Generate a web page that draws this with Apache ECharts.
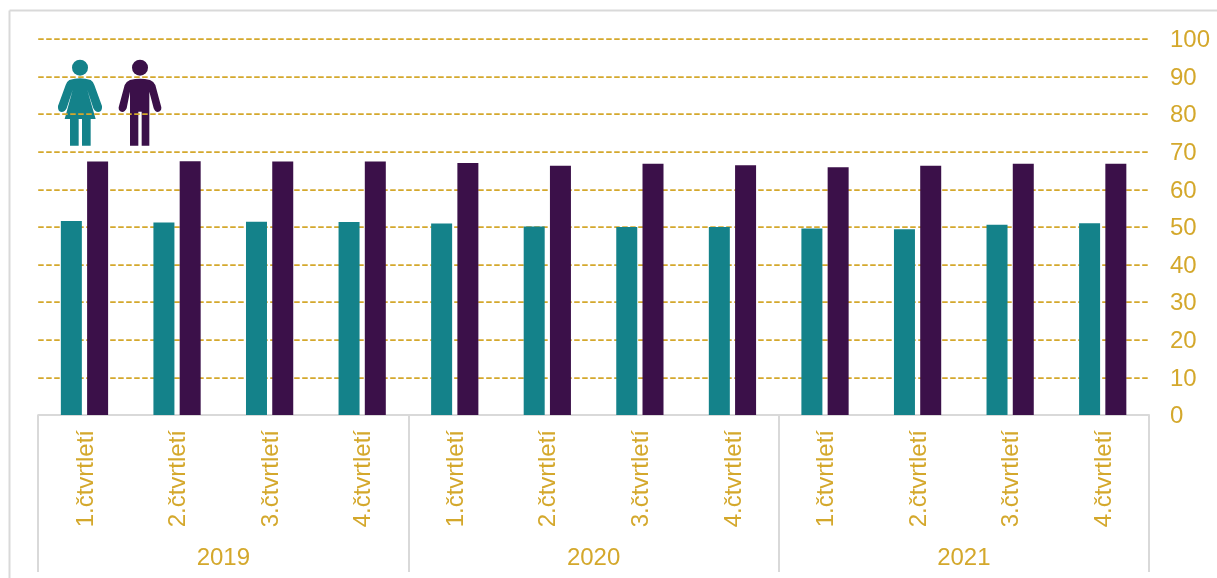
<!DOCTYPE html>
<html>
<head>
<meta charset="utf-8">
<style>html,body{margin:0;padding:0;background:#fff}#c{width:1217px;height:578px}</style>
<script src="https://cdn.jsdelivr.net/npm/echarts@6/dist/echarts.min.js"></script>
</head>
<body>
<div id="c"></div>
<script>
const quarters = ['1.čtvrtletí','2.čtvrtletí','3.čtvrtletí','4.čtvrtletí','1.čtvrtletí','2.čtvrtletí','3.čtvrtletí','4.čtvrtletí','1.čtvrtletí','2.čtvrtletí','3.čtvrtletí','4.čtvrtletí'];
const years = ['2019','2020','2021'];
const women = [51.6,51.2,51.4,51.3,50.9,50.1,50.0,50.0,49.6,49.4,50.6,51.0];
const men = [67.4,67.5,67.4,67.4,67.0,66.3,66.8,66.4,65.9,66.3,66.8,66.8];
const TEAL='#14828A', PURPLE='#3B1049', GOLD='#D4A82C', GRAY='#D9D9D9', FONT='"Liberation Sans", Arial, sans-serif', FS=24;
const womanPath='M118,150 Q150,140 182,150 Q190,155 193,165 L216,228 Q218,245 205,246 Q195,246 190,235 L172,180 L197,267 L182,267 L182,347 L156,347 L156,267 L146,267 L146,347 L120,347 L120,267 L104,267 L128,180 L110,235 Q105,246 95,246 Q82,245 84,228 L107,165 Q110,155 118,150 Z';
const manPath='M300,150 Q330,142 360,150 Q372,155 376,165 L394,232 Q395,245 383,246 Q375,246 371,235 L358,185 L358,347 L335,347 L335,245 L325,245 L325,347 L300,347 L300,185 L290,235 Q285,246 277,246 Q265,245 266,232 L284,165 Q288,155 300,150 Z';
echarts.graphic.registerShape('womanIcon',echarts.graphic.extendPath(womanPath,{}));
echarts.graphic.registerShape('manIcon',echarts.graphic.extendPath(manPath,{}));
const chart=echarts.init(document.getElementById('c'),null,{renderer:'canvas'});
const shifted={a:{color:GOLD,fontFamily:FONT,fontSize:FS,padding:[3,0,0,0]}};
chart.setOption({
  animation:false,
  backgroundColor:'#fff',
  grid:{left:38.2,top:39,width:1110.8,height:376,containLabel:false},
  xAxis:[
    {type:'category',data:quarters,position:'bottom',
     axisLine:{show:true,lineStyle:{color:GRAY,width:2}},axisTick:{show:false},
     axisLabel:{interval:0,rotate:90,margin:15,color:GOLD,fontFamily:FONT,fontSize:FS,formatter:v=>'{a|'+v+'}',rich:shifted}},
    {type:'category',data:years,position:'bottom',
     axisLine:{show:false},
     axisTick:{show:true,alignWithLabel:false,length:157,lineStyle:{color:GRAY,width:2}},
     axisLabel:{interval:0,margin:131,color:GOLD,fontFamily:FONT,fontSize:FS}}
  ],
  yAxis:{type:'value',position:'right',min:0,max:100,interval:10,
    axisLine:{show:false},axisTick:{show:false},
    axisLabel:{margin:21,color:GOLD,fontFamily:FONT,fontSize:FS,align:'left',formatter:v=>'{a|'+v+'}',rich:shifted},
    splitLine:{show:true,lineStyle:{color:GOLD,width:1.75,type:[5.5,2.5]}}},
  series:[
    {name:'Ženy',type:'bar',data:women,xAxisIndex:0,barWidth:21,barGap:'25%',itemStyle:{color:TEAL}},
    {name:'Muži',type:'bar',data:men,xAxisIndex:0,barWidth:21,barGap:'25%',itemStyle:{color:PURPLE}}
  ],
  graphic:[
    {type:'line',silent:true,z:10,shape:{x1:9.5,y1:10.5,x2:1217,y2:10.5},style:{stroke:GRAY,lineWidth:2}},
    {type:'line',silent:true,z:10,shape:{x1:9.5,y1:10.5,x2:9.5,y2:578},style:{stroke:GRAY,lineWidth:2}},
    {type:'group',x:30,y:30,scaleX:1/3,scaleY:1/3,z:20,silent:true,children:[
      {type:'circle',shape:{cx:150,cy:113,r:24},style:{fill:TEAL}},
      {type:'womanIcon',style:{fill:TEAL}},
      {type:'circle',shape:{cx:330,cy:113,r:24},style:{fill:PURPLE}},
      {type:'manIcon',style:{fill:PURPLE}}
    ]}
  ]
});
</script>
</body>
</html>
